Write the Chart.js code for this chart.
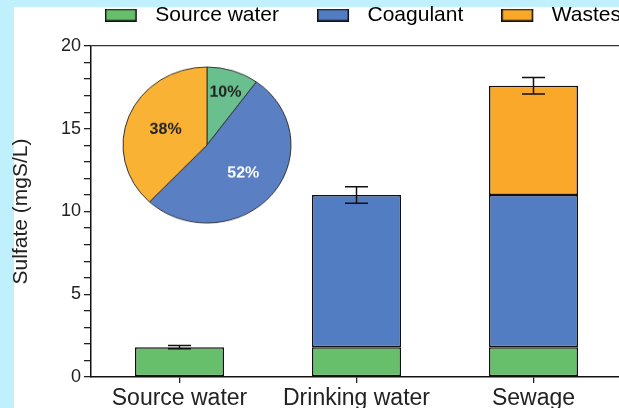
<!DOCTYPE html>
<html>
<head>
<meta charset="utf-8">
<script src="https://cdn.jsdelivr.net/npm/chart.js@4/dist/chart.umd.min.js"></script>
<style>
  html, body { margin: 0; padding: 0; }
  body { width: 619px; height: 408px; background: #bff0fb; position: relative; overflow: hidden; }
  #panel { position: absolute; left: 14px; top: 7px; right: 0; bottom: 0; background: #fff; }
  #bars { position: absolute; left: 0; top: 0; }
  #pieBox { position: absolute; left: 122px; top: 60px; width: 170px; height: 170px;
            transform: scaleY(0.929); transform-origin: 50% 50%; }
</style>
</head>
<body>
<div id="panel"></div>
<canvas id="bars" width="622" height="408"></canvas>
<div id="pieBox"><canvas id="pie" width="170" height="170"></canvas></div>
<script>
// Sulfate contributions per sample type (mgS/L)
const categories = ['Source water', 'Drinking water', 'Sewage'];
const seriesNames = ['Source water', 'Coagulant', 'Wastes'];
const sourceWater = [1.8, 1.8, 1.8];
const coagulant = [null, 9.2, 9.2];
const wastes = [null, null, 6.6];
const errors = [0.1, 0.5, 0.5];
const yMajorTicks = [0, 5, 10, 15, 20];

// Share of sulfate in sewage by origin (%)
const pieShares = [10, 52, 38];

const barColors = ['#67bf6c', '#527dc2', '#f9a82a'];
const pieColors = ['#69bf8d', '#5a80c3', '#f9b234'];
const pieTextColors = ['#222', '#fff', '#222'];
const pieLabelRadius = [0.71, 0.56, 0.53];

Chart.defaults.font.family = '"Liberation Sans", Arial, Helvetica, sans-serif';
Chart.defaults.color = '#222';

// Legend swatch: a bordered box followed by a small gap before the text
function swatch(color) {
  const c = document.createElement('canvas');
  c.width = 40; c.height = 13;
  const g = c.getContext('2d');
  g.fillStyle = color;
  g.fillRect(0.75, 0.75, 30.5, 11.5);
  g.strokeStyle = '#111';
  g.lineWidth = 1.5;
  g.strokeRect(0.75, 0.75, 30.5, 11.5);
  return c;
}

// Extra room between the legend row and the plot frame
const legendGap = {
  id: 'legendGap',
  beforeInit(chart) {
    const fit = chart.legend.fit;
    chart.legend.fit = function () {
      fit.call(this);
      this.height += 10.5;
    };
  }
};

const errorBars = {
  id: 'errorBars',
  afterDatasetsDraw(chart) {
    const { ctx, scales: { x, y } } = chart;
    ctx.save();
    ctx.strokeStyle = '#111';
    ctx.lineWidth = 1.5;
    categories.forEach((_, i) => {
      const total = (sourceWater[i] || 0) + (coagulant[i] || 0) + (wastes[i] || 0);
      const px = x.getPixelForValue(i);
      const hi = y.getPixelForValue(total + errors[i]);
      const lo = y.getPixelForValue(total - errors[i]);
      const half = 11.5;
      ctx.beginPath();
      ctx.moveTo(px, hi); ctx.lineTo(px, lo);
      ctx.moveTo(px - half, hi); ctx.lineTo(px + half, hi);
      ctx.moveTo(px - half, lo); ctx.lineTo(px + half, lo);
      ctx.stroke();
    });
    ctx.restore();
  }
};

const datasets = [sourceWater, coagulant, wastes].map((values, i) => ({
  label: seriesNames[i],
  data: values,
  backgroundColor: barColors[i],
  borderColor: '#111',
  borderWidth: 1.5,
  borderSkipped: false,
  barPercentage: 0.503,
  categoryPercentage: 1
}));

new Chart(document.getElementById('bars'), {
  type: 'bar',
  data: { labels: categories, datasets },
  options: {
    responsive: false,
    animation: false,
    layout: { padding: { left: 0, right: -37, top: -33.5, bottom: 0 } },
    plugins: {
      tooltip: { enabled: false },
      legend: {
        position: 'top',
        align: 'end',
        labels: {
          usePointStyle: true,
          pointStyleWidth: 40,
          padding: 38,
          color: '#222',
          font: { size: 21 },
          generateLabels(chart) {
            return chart.data.datasets.map((ds, i) => ({
              text: ds.label,
              pointStyle: swatch(ds.backgroundColor),
              fillStyle: ds.backgroundColor,
              strokeStyle: '#111',
              lineWidth: 0,
              hidden: false,
              datasetIndex: i
            }));
          }
        }
      }
    },
    scales: {
      x: {
        stacked: true,
        ticks: { font: { size: 23 }, color: '#222', padding: 2 },
        grid: { drawOnChartArea: false, offset: false, tickLength: 6, tickColor: '#222', lineWidth: 1.3 },
        border: { color: '#111', width: 1.5 },
        afterFit(s) { s.height = 31; }
      },
      y: {
        stacked: true,
        min: 0,
        max: 20,
        ticks: {
          stepSize: 1,
          autoSkip: false,
          padding: 3,
          font: { size: 18 },
          color: '#222',
          callback: v => (yMajorTicks.includes(v) ? String(v) : '')
        },
        grid: {
          drawOnChartArea: true,
          color: c => (c.tick && c.tick.value === 20 ? '#333' : 'rgba(0,0,0,0)'),
          tickColor: '#222',
          tickLength: 7,
          lineWidth: 1.3
        },
        border: { color: '#111', width: 1.5 },
        title: {
          display: true,
          text: 'Sulfate (mgS/L)',
          color: '#222',
          font: { size: 21 },
          padding: { top: 8.4, bottom: 0 }
        },
        afterFit(s) { s.width = 91; }
      }
    }
  },
  plugins: [legendGap, errorBars]
});

// Percent labels inside the pie slices, kept upright against the box squash
const pieLabels = {
  id: 'pieLabels',
  afterDatasetsDraw(chart) {
    const { ctx } = chart;
    const meta = chart.getDatasetMeta(0);
    const squash = 0.929;
    ctx.save();
    ctx.font = 'bold 16px "Liberation Sans", Arial, sans-serif';
    ctx.textAlign = 'center';
    ctx.textBaseline = 'middle';
    meta.data.forEach((arc, i) => {
      const { x, y, startAngle, endAngle, outerRadius } = arc.getProps(['x', 'y', 'startAngle', 'endAngle', 'outerRadius'], true);
      const mid = (startAngle + endAngle) / 2;
      const r = outerRadius * pieLabelRadius[i];
      ctx.save();
      ctx.translate(x + Math.cos(mid) * r, y + Math.sin(mid) * r);
      ctx.scale(1, 1 / squash);
      ctx.fillStyle = pieTextColors[i];
      ctx.fillText(pieShares[i] + '%', 0, 0);
      ctx.restore();
    });
    ctx.restore();
  }
};

new Chart(document.getElementById('pie'), {
  type: 'pie',
  data: {
    labels: seriesNames,
    datasets: [{ data: pieShares, backgroundColor: pieColors, borderColor: '#333', borderWidth: 1 }]
  },
  options: {
    responsive: false,
    animation: false,
    radius: 84,
    layout: { padding: 0 },
    plugins: { legend: { display: false }, tooltip: { enabled: false } }
  },
  plugins: [pieLabels]
});
</script>
</body>
</html>
